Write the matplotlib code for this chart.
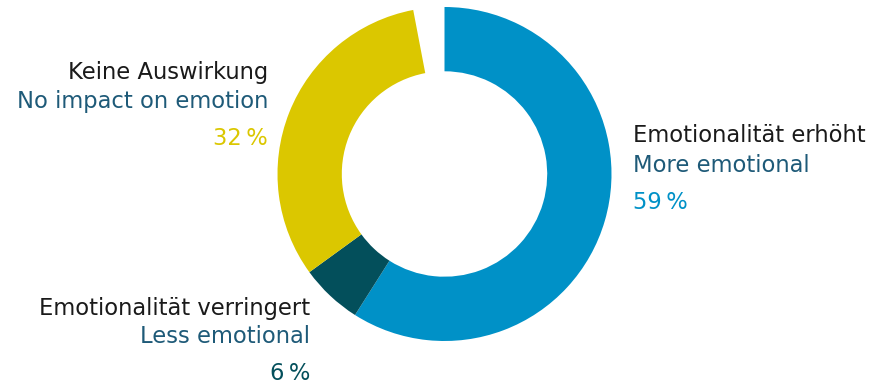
import matplotlib
matplotlib.use("Agg")
import matplotlib.pyplot as plt

# Survey shares (percent); the remainder to 100 is left blank
shares = [59, 6, 32]
share_colors = ["#0091C7", "#034F5B", "#DBC700"]
labels_de = ["Emotionalität erhöht", "Emotionalität verringert", "Keine Auswirkung"]
labels_en = ["More emotional", "Less emotional", "No impact on emotion"]

W, H = 874, 388
fig = plt.figure(figsize=(W / 100, H / 100), dpi=100)
plt.rcParams["font.family"] = ["DejaVu Sans"]

cx, cy, r = 444.5, 174, 167
ax = fig.add_axes([(cx - r) / W, (H - cy - r) / H, 2 * r / W, 2 * r / H])
rest = 100 - sum(shares)
ax.pie(shares + [rest], colors=share_colors + ["none"], startangle=90,
       counterclock=False, radius=1.0,
       wedgeprops=dict(width=0.385, linewidth=0, edgecolor="none", antialiased=True))
ax.set_xlim(-1, 1)
ax.set_ylim(-1, 1)
ax.set_aspect("equal")
ax.axis("off")

de_color = "#1A1A1A"
en_color = "#1E5A78"
fs = 16.3


def put(x, y, s, color, ha, weight="normal"):
    fig.text(x / W, 1 - y / H, s, color=color, ha=ha, va="baseline",
             fontsize=fs, fontweight=weight)


# (x, baseline of first line, alignment) for each category
anchors = [(633, 142, "left"), (310, 315, "right"), (268, 79, "right")]
gaps = [(30, 67), (28, 65), (29, 66)]
for (x, y, ha), (g1, g2), de, en, v, c in zip(anchors, gaps, labels_de, labels_en,
                                               shares, share_colors):
    put(x, y, de, de_color, ha)
    put(x, y + g1, en, en_color, ha)
    put(x, y + g2, f"{v}\u2009%", c, ha)

fig.savefig("out.png", dpi=100, facecolor="white")
